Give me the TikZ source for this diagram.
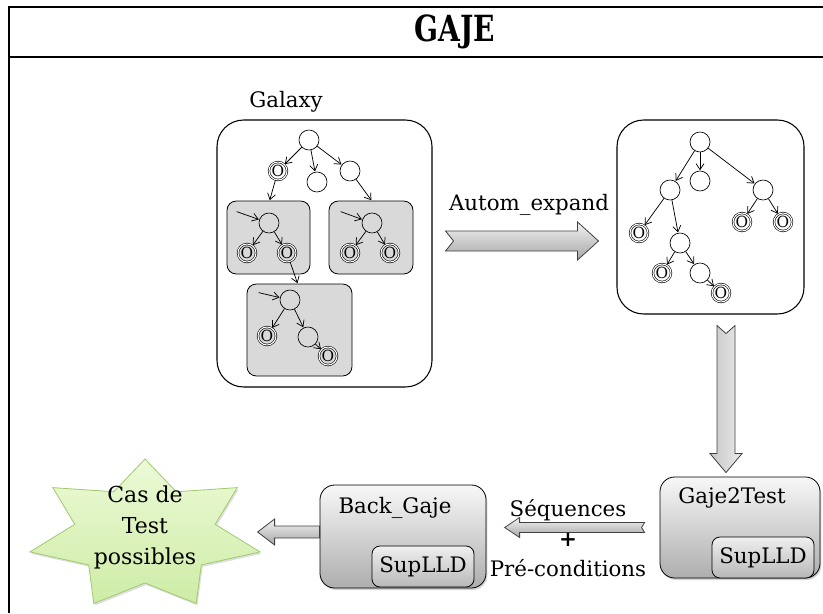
\documentclass[tikz,border=0pt]{standalone}
\usepackage{fontspec}
\setmainfont{DejaVu Serif}
\usetikzlibrary{arrows.meta,shadows,calc}
\definecolor{startop}{RGB}{236,250,214}
\definecolor{starbot}{RGB}{206,236,166}
\definecolor{starline}{RGB}{160,200,110}
\tikzset{
  st/.style={circle,draw,minimum size=15pt,inner sep=0pt,line width=0.5pt},
  fin/.style={circle,draw,double,double distance=0.8pt,line width=0.45pt,minimum size=13.5pt,inner sep=0pt,font=\fontsize{11.5}{11.5}\selectfont},
  tr/.style={-{Straight Barb[length=4.5pt,width=6pt]},line width=0.55pt,shorten >=0.3pt},
  gbox/.style={draw,rounded corners=7pt,fill=black!15,line width=0.6pt},
  bigbox/.style={draw,rounded corners=20pt,fill=white,line width=0.8pt},
  tool/.style={draw,rounded corners=11pt,top color=black!3,bottom color=black!32,line width=0.6pt,
    drop shadow={shadow xshift=1pt,shadow yshift=-1.5pt,opacity=0.35}},
  sup/.style={draw,rounded corners=6pt,top color=black!6,bottom color=black!28,line width=0.6pt,
    minimum width=76.5pt,minimum height=30.75pt,inner sep=0pt},
  barrow/.style={draw=black!75,top color=black!5,bottom color=black!35,line width=0.6pt},
  varrow/.style={draw=black!75,left color=black!22,right color=black!8,line width=0.6pt}
}
\begin{document}
\begin{tikzpicture}[x=0.75pt,y=-0.75pt,font=\fontsize{16}{22.5}\selectfont]
\useasboundingbox (0,0) rectangle (823,613);
\draw[line width=1.2pt] (823,7) -- (9,7) -- (9,613);
\draw[line width=1.2pt] (9,57) -- (823,57);
\node (title) at (455,32) {\scalebox{0.78}[1]{\fontsize{27}{27}\selectfont\bfseries GAJE}};

\node (galaxylbl) at (286,102) {Galaxy};
\node[bigbox,minimum width=161.25pt,minimum height=200.25pt] (galaxy) at (324.5,253.5) {};
\node[gbox,minimum width=62.25pt,minimum height=54.75pt] (box1) at (268.5,237.5) {};
\node[gbox,minimum width=63pt,minimum height=54.75pt] (box2) at (371,237.5) {};
\node[gbox,minimum width=78.75pt,minimum height=69pt] (box3) at (299.5,330) {};

\node[st] (g0) at (309,140) {};
\node[fin] (ga) at (278,171) {O};
\node[st] (gb) at (317,182) {};
\node[st] (gc) at (350,171) {};
\node[st] (b1) at (269,223) {};
\node[fin] (b1a) at (247,253) {O};
\node[fin] (b1b) at (287,253) {O};
\node[st] (b2) at (372,223) {};
\node[fin] (b2a) at (350,253) {O};
\node[fin] (b2b) at (390,253) {O};
\node[st] (b3) at (290,300) {};
\node[fin] (b3a) at (267,336) {O};
\node[st] (b3b) at (308,337) {};
\node[fin] (b3c) at (328,356) {O};
\draw[tr] (g0) -- (ga);
\draw[tr] (g0) -- (gb);
\draw[tr] (g0) -- (gc);
\draw[tr] (ga) -- ($(box1.north west)+(43,0)$);
\draw[tr] (gc) -- ($(box2.north west)+(43,0)$);
\draw[tr] (b1b) -- ($(box3.north west)+(51,0)$);
\draw[tr] ($(box1.north west)+(10,11)$) -- (b1);
\draw[tr] ($(box2.north west)+(12,11)$) -- (b2);
\draw[tr] ($(box3.north west)+(12,9)$) -- (b3);
\draw[tr] (b1) -- (b1a);
\draw[tr] (b1) -- (b1b);
\draw[tr] (b2) -- (b2a);
\draw[tr] (b2) -- (b2b);
\draw[tr] (b3) -- (b3a);
\draw[tr] (b3) -- (b3b);
\draw[tr] (b3b) -- (b3c);

\node[bigbox,minimum width=140.25pt,minimum height=145.5pt] (tree) at (710.5,217) {};
\node[st] (r0) at (700,142) {};
\node[st] (r1) at (670,190) {};
\node[st] (r2) at (700,181) {};
\node[st] (r3) at (763,190) {};
\node[fin] (r4) at (639,233) {O};
\node[st] (r5) at (680,243) {};
\node[fin] (r6) at (662,273) {O};
\node[st] (r7) at (700,273) {};
\node[fin] (r8) at (721,293) {O};
\node[fin] (r9) at (742,222) {O};
\node[fin] (r10) at (783,222) {O};
\draw[tr] (r0) -- (r1);
\draw[tr] (r0) -- (r2);
\draw[tr] (r0) -- (r3);
\draw[tr] (r1) -- (r4);
\draw[tr] (r1) -- (r5);
\draw[tr] (r5) -- (r6);
\draw[tr] (r5) -- (r7);
\draw[tr] (r7) -- (r8);
\draw[tr] (r3) -- (r9);
\draw[tr] (r3) -- (r10);

\node (autom) at (529,205) {Autom\_expand};
\coordinate (a1) at ($(galaxy.east)+(13,-12.5)$);
\draw[barrow] (a1) ++(0,-10) -- ++(132,0) -- ++(0,-9) -- ++(21,19) -- ++(-21,19) -- ++(0,-9) -- ++(-132,0) -- ++(8,-10) -- cycle;
\coordinate (a2) at ($(tree.south)+(15.5,11)$);
\draw[varrow] (a2) ++(-9,0) -- ++(0,128) -- ++(-7,0) -- ++(16,19) -- ++(16,-19) -- ++(-7,0) -- ++(0,-128) -- ++(-9,8) -- cycle;

\node[tool,minimum width=120pt,minimum height=75.75pt] (g2t) at (740,527.5) {};
\node (g2tlbl) at (732,498) {Gaje2Test};
\node[sup] (sup2) at (763,557.5) {SupLLD};
\node[tool,minimum width=124.5pt,minimum height=77.25pt] (back) at (403,536.5) {};
\node (backlbl) at (395,508) {Back\_Gaje};
\node[sup] (sup1) at (423,566.5) {SupLLD};

\coordinate (a3) at ($(g2t.west)+(-15,0)$);
\draw[barrow] (a3) ++(0,-5) -- ++(-125,0) -- ++(0,-5) -- ++(-15,10) -- ++(15,10) -- ++(0,-5) -- ++(125,0) -- ++(-3,-5) -- cycle;
\node[align=center,font=\fontsize{16}{22.5}\selectfont] (seq) at (568,538) {Séquences\\\textbf{+}\\Pré-conditions};

\draw[draw=starline,top color=startop,bottom color=starbot,line width=0.6pt,
  drop shadow={shadow xshift=1pt,shadow yshift=-1.5pt,opacity=0.25}]
  plot[samples at={0,...,13}] ({145+(mod(\x,2)==0 ? 118 : 72)*cos(90+\x*25.7143)},{535-(mod(\x,2)==0 ? 76 : 48)*sin(90+\x*25.7143)}) -- cycle;
\node[align=center,font=\fontsize{16.5}{23}\selectfont] (cas) at (145,527.5) {Cas de\\Test\\possibles};
\coordinate (a4) at ($(back.west)+(0,-4.5)$);
\draw[barrow] (a4) ++(0,-6) -- ++(-45,0) -- ++(0,-7) -- ++(-17,13) -- ++(17,13) -- ++(0,-7) -- ++(45,0) -- cycle;
\end{tikzpicture}
\end{document}
